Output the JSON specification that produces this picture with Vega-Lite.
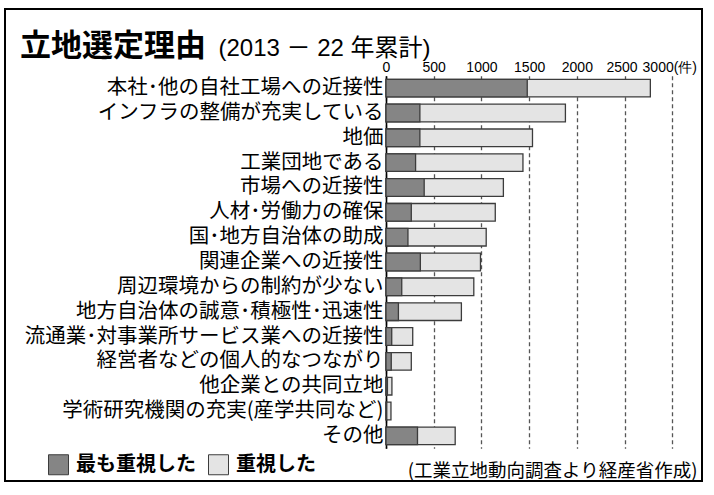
{
  "$schema": "https://vega.github.io/schema/vega-lite/v6.json",
  "width": 697,
  "height": 472,
  "autosize": "none",
  "padding": {"left": 5, "top": 9, "right": 12, "bottom": 14},
  "background": "white",
  "title": {
    "text": "立地選定理由",
    "anchor": "start",
    "frame": "group",
    "orient": "top",
    "offset": -78,
    "dx": 15,
    "font": "Noto Sans CJK JP",
    "fontSize": 31,
    "fontWeight": "bold",
    "color": "black",
    "baseline": "alphabetic"
  },
  "data": {
    "values": [
      {"reason": "本社･他の自社工場への近接性", "most": 1480, "total": 2770},
      {"reason": "インフラの整備が充実している", "most": 355, "total": 1880},
      {"reason": "地価", "most": 355, "total": 1535},
      {"reason": "工業団地である", "most": 310, "total": 1435},
      {"reason": "市場への近接性", "most": 400, "total": 1230},
      {"reason": "人材･労働力の確保", "most": 265, "total": 1145},
      {"reason": "国･地方自治体の助成", "most": 230, "total": 1050},
      {"reason": "関連企業への近接性", "most": 360, "total": 990},
      {"reason": "周辺環境からの制約が少ない", "most": 165, "total": 920},
      {"reason": "地方自治体の誠意･積極性･迅速性", "most": 130, "total": 790},
      {"reason": "流通業･対事業所サービス業への近接性", "most": 60, "total": 280},
      {"reason": "経営者などの個人的なつながり", "most": 55, "total": 265},
      {"reason": "他企業との共同立地", "most": 15, "total": 62},
      {"reason": "学術研究機関の充実(産学共同など)", "most": 8, "total": 52},
      {"reason": "その他", "most": 330, "total": 725}
    ]
  },
  "encoding": {
    "y": {
      "field": "reason",
      "type": "nominal",
      "sort": null,
      "scale": {"range": [66.7, 439.3], "paddingInner": 0.29, "paddingOuter": 0.145},
      "axis": {
        "orient": "left",
        "offset": -381,
        "domain": true,
        "domainColor": "black",
        "domainWidth": 1.6,
        "ticks": false,
        "grid": false,
        "labelFont": "Noto Sans CJK JP",
        "labelFontSize": 20.5,
        "labelColor": "black",
        "labelPadding": 3,
        "labelLimit": 0,
        "labelOverlap": false,
        "title": "(工業立地動向調査より経産省作成)",
        "titleAngle": 0,
        "titleX": 311,
        "titleY": 467,
        "titleAlign": "right",
        "titleBaseline": "alphabetic",
        "titleFont": "Noto Sans CJK JP",
        "titleFontSize": 18.5,
        "titleFontWeight": "normal",
        "titleColor": "black"
      }
    }
  },
  "layer": [
    {
      "mark": {"type": "bar", "stroke": "#3c3c3c", "strokeWidth": 1.3},
      "encoding": {
        "x": {
          "field": "total",
          "type": "quantitative",
          "scale": {"domain": [0, 3000], "range": [381, 667.3], "nice": false, "zero": true},
          "axis": {
            "orient": "top",
            "offset": -68,
            "domain": false,
            "ticks": false,
            "grid": true,
            "gridDash": [4, 3],
            "gridColor": "#555555",
            "gridWidth": 1.3,
            "values": [0, 500, 1000, 1500, 2000, 2500, 3000],
            "format": "d",
            "labelFont": "Liberation Sans",
            "labelFontSize": 14,
            "labelColor": "black",
            "labelPadding": 3,
            "labelFlush": false,
            "labelOverlap": false,
            "labelExpr": "datum.value == 3000 ? '3000(件)' : datum.label",
            "labelOffset": {"condition": {"test": "datum.value >= 2500", "value": -3}, "value": 0},
            "title": "(2013 － 22 年累計)",
            "titleX": 213,
            "titleY": -22,
            "titleAlign": "left",
            "titleBaseline": "alphabetic",
            "titleFont": "Liberation Sans, Noto Sans CJK JP, sans-serif",
            "titleFontSize": 24,
            "titleFontWeight": "normal",
            "titleColor": "black"
          }
        },
        "color": {
          "datum": "重視した",
          "type": "nominal",
          "scale": {"domain": ["最も重視した", "重視した"], "range": ["#858585", "#e4e4e4"]},
          "legend": {
            "orient": "none",
            "legendX": 43,
            "legendY": 445,
            "direction": "horizontal",
            "title": null,
            "symbolType": "square",
            "symbolSize": 400,
            "symbolStrokeColor": "#444444",
            "symbolStrokeWidth": 1,
            "labelFont": "Noto Sans CJK JP",
            "labelFontSize": 20,
            "labelFontWeight": "bold",
            "labelColor": "black",
            "labelOffset": 7,
            "columnPadding": 10
          }
        }
      }
    },
    {
      "mark": {"type": "bar", "stroke": "#3c3c3c", "strokeWidth": 1.3},
      "encoding": {
        "x": {"field": "most", "type": "quantitative"},
        "color": {"datum": "最も重視した", "type": "nominal"}
      }
    }
  ],
  "config": {
    "view": {"stroke": "black", "strokeWidth": 2, "fill": "white"}
  }
}
